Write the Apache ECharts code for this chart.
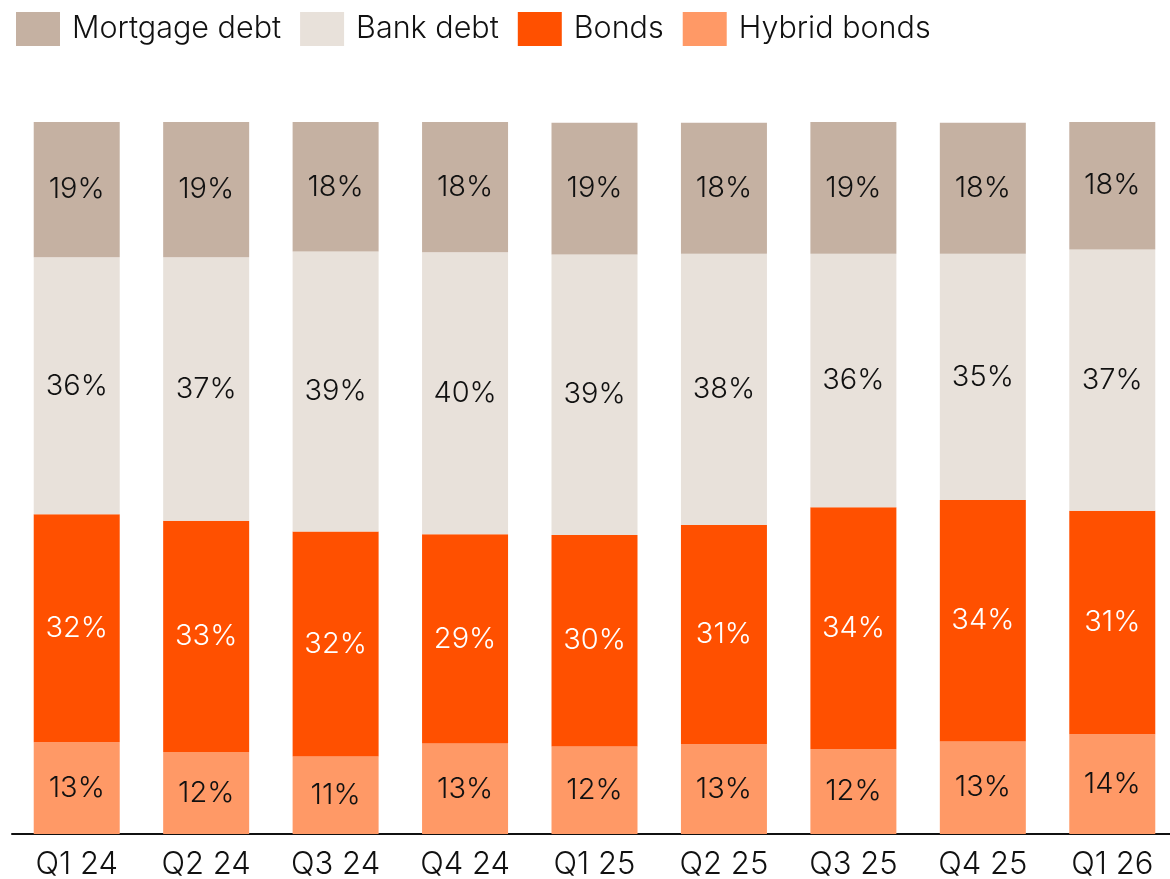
<!DOCTYPE html>
<html>
<head>
<meta charset="utf-8">
<script src="https://cdn.jsdelivr.net/npm/echarts@6/dist/echarts.min.js"></script>
<style>html,body{margin:0;padding:0;background:#fff}#c{width:1170px;height:879px}</style>
</head>
<body>
<div id="c"></div>
<script>
const categories = ['Q1 24','Q2 24','Q3 24','Q4 24','Q1 25','Q2 25','Q3 25','Q4 25','Q1 26'];
const mortgage = [19.0, 19.1, 18.2, 18.4, 18.5, 18.4, 18.6, 18.4, 17.9];
const bank     = [36.1, 37.0, 39.3, 39.6, 39.4, 38.1, 35.6, 34.6, 36.7];
const bonds    = [32.0, 32.5, 31.6, 29.4, 29.7, 30.8, 34.0, 33.9, 31.4];
const hybrid   = [12.9, 11.5, 10.9, 12.7, 12.3, 12.6, 11.9, 13.0, 14.0];

const FONT = 'Inter';
const W = 300;
const chart = echarts.init(document.getElementById('c'));
function lbl(color){
  return {show:true, position:'inside', color:color, fontSize:29, fontFamily:FONT, fontWeight:W,
    formatter: p => Math.round(p.value) + '%'};
}
function s(name, data, color, textColor){
  return {name, type:'bar', stack:'total', data, barWidth:86,
    itemStyle:{color}, label:lbl(textColor), emphasis:{disabled:true}};
}
chart.setOption({
  animation:false,
  textStyle:{fontFamily:FONT},
  legend:{
    left:16, top:12, padding:0, itemWidth:44, itemHeight:34, itemGap:19,
    icon:'rect',
    data:['Mortgage debt','Bank debt','Bonds','Hybrid bonds'],
    textStyle:{fontSize:30.5, color:'#111', fontFamily:FONT, fontWeight:W, padding:[0,0,0,7]}
  },
  grid:{left:12, width:1165, top:122, bottom:45, containLabel:false, outerBoundsMode:'none'},
  xAxis:{type:'category', data:categories,
    axisLine:{lineStyle:{color:'#111', width:2}},
    axisTick:{show:false},
    axisLabel:{fontSize:31, color:'#111', margin:15, fontFamily:FONT, fontWeight:W}},
  yAxis:{type:'value', min:0, max:100, show:false, splitLine:{show:false}},
  series:[
    s('Hybrid bonds', hybrid, '#FF9966', '#111'),
    s('Bonds', bonds, '#FF5000', '#fff'),
    s('Bank debt', bank, '#E8E1DA', '#111'),
    s('Mortgage debt', mortgage, '#C5B1A2', '#111')
  ]
});
</script>
</body>
</html>
